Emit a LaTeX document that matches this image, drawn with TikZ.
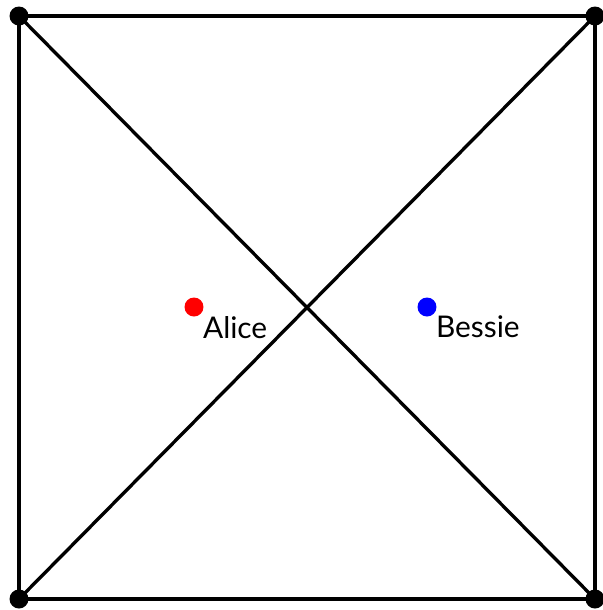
\documentclass[tikz,border=0pt]{standalone}
\usepackage{fontspec}
\setmainfont{Lato}
\usepackage{tikz}
\usetikzlibrary{positioning}
\definecolor{alicered}{HTML}{FF0000}
\definecolor{bessieblue}{HTML}{0000FF}

\begin{document}
\begin{tikzpicture}[x=0.02cm,y=-0.02cm,font=\fontsize{17}{20}\selectfont,
  cornerdot/.style={circle,fill=black,inner sep=0pt,minimum size=0.38cm},
  cowdot/.style={circle,inner sep=0pt,minimum size=0.38cm},
  cowname/.style={anchor=north west,inner sep=1pt},
  side/.style={line width=1.9pt}]
\useasboundingbox (0,0) rectangle (603,610);
\node[cornerdot] (tl) at (19,16) {};
\node[cornerdot] (tr) at (595,16) {};
\node[cornerdot] (bl) at (19,599) {};
\node[cornerdot] (br) at (595,599) {};
\draw[side] (tl.center) -- (tr.center) -- (br.center) -- (bl.center) -- cycle;
\draw[side] (tl.center) -- (br.center);
\draw[side] (bl.center) -- (tr.center);
\node[cowdot,fill=alicered] (alice) at (194,307) {};
\node[cowdot,fill=bessieblue] (bessie) at (427,307) {};
\node[cowname] (alicename) at (alice.south east) {Alice};
\node[cowname] (bessiename) at (bessie.south east) {Bessie};
\end{tikzpicture}
\end{document}
